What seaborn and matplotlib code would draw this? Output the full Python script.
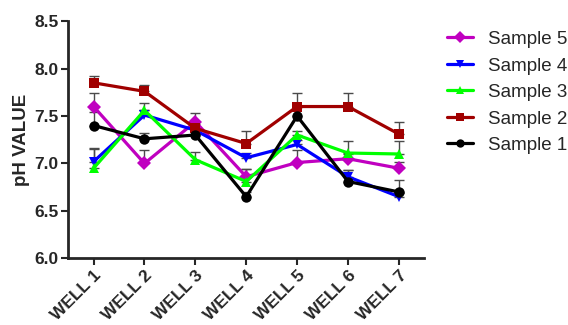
import pandas as pd
import seaborn as sns
import matplotlib.pyplot as plt
import numpy as np

wells = ["WELL 1", "WELL 2", "WELL 3", "WELL 4", "WELL 5", "WELL 6", "WELL 7"]
samples = ["Sample 5", "Sample 4", "Sample 3", "Sample 2", "Sample 1"]

sample5 = [7.60, 7.00, 7.44, 6.86, 7.01, 7.05, 6.95]
sample4 = [7.02, 7.51, 7.35, 7.06, 7.20, 6.86, 6.65]
sample3 = [6.95, 7.56, 7.04, 6.81, 7.30, 7.11, 7.10]
sample2 = [7.85, 7.76, 7.37, 7.21, 7.60, 7.60, 7.31]
sample1 = [7.40, 7.26, 7.30, 6.65, 7.50, 6.81, 6.70]

err5 = [0.14, 0.14, 0.09, 0.08, 0.13, 0.05, 0.07]
err4 = [0.14, 0.05, 0.05, 0.05, 0.05, 0.07, 0.04]
err3 = [0.20, 0.08, 0.08, 0.13, 0.04, 0.13, 0.14]
err2 = [0.07, 0.07, 0.05, 0.13, 0.14, 0.14, 0.13]
err1 = [0.14, 0.06, 0.05, 0.05, 0.10, 0.12, 0.13]

values = {"Sample 5": sample5, "Sample 4": sample4, "Sample 3": sample3,
          "Sample 2": sample2, "Sample 1": sample1}
errors = {"Sample 5": err5, "Sample 4": err4, "Sample 3": err3,
          "Sample 2": err2, "Sample 1": err1}

colors = {"Sample 5": "#C000C0", "Sample 4": "#0000FF", "Sample 3": "#00FF00",
          "Sample 2": "#A00000", "Sample 1": "#000000"}
markers = {"Sample 5": "D", "Sample 4": "v", "Sample 3": "^",
           "Sample 2": "s", "Sample 1": "o"}

# long format for seaborn
rows = []
for s in samples:
    for w, v in zip(wells, values[s]):
        rows.append({"well": w, "sample": s, "ph": v})
df = pd.DataFrame(rows)

sns.set_style("ticks")
plt.rcParams['font.family'] = ['Liberation Sans', 'DejaVu Sans']

fig, ax = plt.subplots(figsize=(5.68, 3.25), dpi=100)
fig.subplots_adjust(left=0.12, right=0.747, top=0.935, bottom=0.205)

# one-sided error bars (upward only)
x = np.arange(len(wells))
for s in samples:
    e = np.array(errors[s])
    ax.errorbar(x, values[s], yerr=[np.zeros_like(e), e], fmt='none',
                ecolor='#4a4a4a', elinewidth=1.0, capsize=3.5, capthick=1.0, zorder=1.5)

sns.lineplot(data=df, x="well", y="ph", hue="sample", style="sample",
             hue_order=samples, style_order=samples, palette=colors,
             markers=markers, dashes=False, linewidth=2.3, markersize=7.5,
             markeredgewidth=0, sort=False, ax=ax)

ax.set_xlim(-0.5, 6.5)
ax.set_ylim(6.0, 8.5)
ax.set_yticks(np.arange(6.0, 8.51, 0.5))
ax.set_yticklabels([f"{t:.1f}" for t in np.arange(6.0, 8.51, 0.5)],
                   fontsize=12.5, fontweight='bold')
ax.set_xticks(x)
ax.set_xticklabels(wells, rotation=45, ha='right', rotation_mode='anchor',
                   fontsize=12.5, fontweight='bold')
ax.set_xlabel("")
ax.set_ylabel("pH VALUE", fontsize=13.5, fontweight='bold', labelpad=3)
ax.tick_params(axis='both', direction='out', length=5, width=1.5, pad=2)

for side in ["top", "right"]:
    ax.spines[side].set_visible(False)
for side in ["left", "bottom"]:
    ax.spines[side].set_linewidth(2.0)

sns.move_legend(ax, "upper left", bbox_to_anchor=(1.017, 1.03), frameon=False,
                title=None, fontsize=13.5, handlelength=1.4, handletextpad=0.75,
                labelspacing=0.5, markerscale=0.8)

plt.savefig("out.png", dpi=100)
